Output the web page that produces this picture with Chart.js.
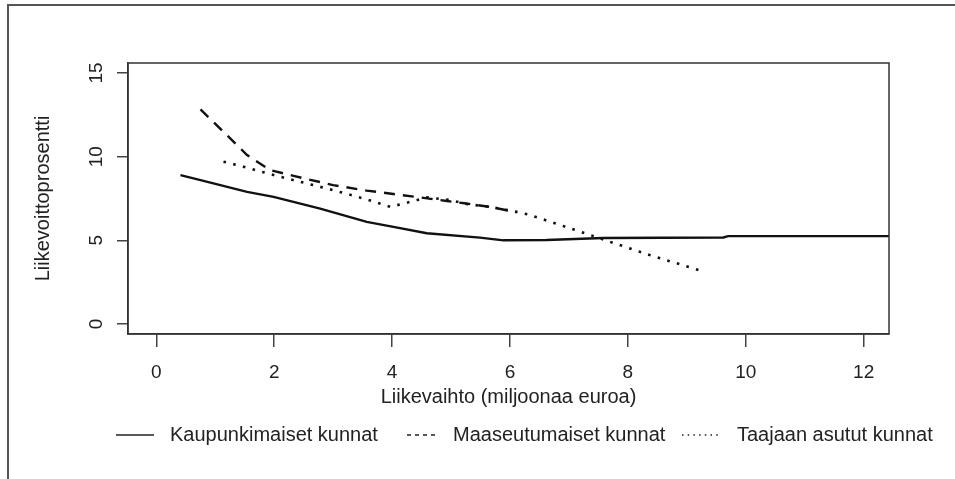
<!DOCTYPE html>
<html>
<head>
<meta charset="utf-8">
<script src="https://cdn.jsdelivr.net/npm/chart.js@4/dist/chart.umd.min.js"></script>
<style>
  html, body { margin: 0; padding: 0; background: #fff; }
</style>
</head>
<body>
<canvas id="chartLiikevoitto" width="955" height="479"></canvas>
<script>
// Values
const xTicks = [0, 2, 4, 6, 8, 10, 12];
const yTicks = [0, 5, 10, 15];

const kaupunkiX = [0.41, 0.75, 1.54, 1.99, 2.78, 3.57, 4.0, 4.59, 5.49, 5.89, 6.62, 7.58, 9.62, 9.7, 12.6];
const kaupunkiY = [8.9, 8.6, 7.9, 7.6, 6.9, 6.1, 5.82, 5.42, 5.16, 5.0, 5.02, 5.14, 5.17, 5.25, 5.25];

const maaseutuX = [0.75, 1.54, 1.93, 2.33, 3.0, 3.57, 4.02, 4.47, 4.93, 5.26, 5.66, 6.11];
const maaseutuY = [12.83, 10.1, 9.2, 8.85, 8.3, 7.97, 7.77, 7.57, 7.35, 7.2, 7.0, 6.68];

const taajaanX = [1.14, 1.48, 1.99, 2.44, 3.0, 3.57, 3.97, 4.31, 4.59, 5.0, 5.26, 5.66, 6.0, 6.31, 7.36, 7.69, 8.37, 9.25];
const taajaanY = [9.7, 9.4, 8.9, 8.5, 8.0, 7.45, 7.0, 7.3, 7.57, 7.4, 7.17, 7.0, 6.78, 6.55, 5.32, 4.92, 4.12, 3.17];

const seriesNames = ["Kaupunkimaiset kunnat", "Maaseutumaiset kunnat", "Taajaan asutut kunnat"];

const toPoints = (xs, ys) => xs.map((x, i) => ({ x: x, y: ys[i] }));

Chart.defaults.font.family = "'Liberation Sans', Arial, sans-serif";
Chart.defaults.font.size = 19;
Chart.defaults.color = "#222";

// outer frame (only top and left edges show in the picture)
const framePlugin = {
  id: "frame",
  beforeDraw(chart) {
    const ctx = chart.ctx;
    ctx.save();
    ctx.fillStyle = "#fff";
    ctx.fillRect(0, 0, chart.width, chart.height);
    ctx.strokeStyle = "#555";
    ctx.lineWidth = 2;
    ctx.beginPath();
    ctx.moveTo(8, chart.height);
    ctx.lineTo(8, 5);
    ctx.lineTo(chart.width, 5);
    ctx.stroke();
    ctx.restore();
  },
  afterDraw(chart) {
    const a = chart.chartArea;
    const ctx = chart.ctx;
    ctx.save();
    ctx.strokeStyle = "#333";
    ctx.lineWidth = 1.5;
    ctx.strokeRect(a.left, a.top, a.right - a.left, a.bottom - a.top);
    ctx.restore();
  }
};

// R style legend under the axis title
const legendPlugin = {
  id: "rLegend",
  afterDraw(chart, args, opts) {
    const ctx = chart.ctx;
    ctx.save();
    ctx.font = "20px 'Liberation Sans', Arial, sans-serif";
    ctx.fillStyle = "#222";
    ctx.textBaseline = "middle";
    chart.data.datasets.forEach((ds, i) => {
      const it = opts.items[i];
      ctx.strokeStyle = "#222";
      ctx.lineWidth = 1.5;
      ctx.setLineDash(it.dash);
      ctx.beginPath();
      ctx.moveTo(it.x0, opts.y);
      ctx.lineTo(it.x1, opts.y);
      ctx.stroke();
      ctx.setLineDash([]);
      ctx.fillText(ds.label, it.tx, opts.y);
    });
    ctx.restore();
  }
};

const chartLiikevoitto = document.getElementById("chartLiikevoitto");
new Chart(chartLiikevoitto, {
  type: "line",
  data: {
    datasets: [
      {
        label: seriesNames[0],
        data: toPoints(kaupunkiX, kaupunkiY),
        borderColor: "#111",
        borderWidth: 2.4,
        pointRadius: 0,
        tension: 0,
      },
      {
        label: seriesNames[1],
        data: toPoints(maaseutuX, maaseutuY),
        borderColor: "#111",
        borderWidth: 2.4,
        borderDash: [11, 8],
        pointRadius: 0,
        tension: 0,
      },
      {
        label: seriesNames[2],
        data: toPoints(taajaanX, taajaanY),
        borderColor: "#111",
        borderWidth: 2.6,
        borderDash: [2.6, 7.4],
        pointRadius: 0,
        tension: 0,
      },
    ],
  },
  options: {
    responsive: false,
    animation: false,
    layout: { padding: { top: 63, right: 66, left: 0, bottom: 0 } },
    plugins: {
      legend: { display: false },
      tooltip: { enabled: false },
      rLegend: {
        y: 435,
        items: [
          { x0: 116, x1: 154, tx: 170, dash: [] },
          { x0: 407, x1: 435, tx: 453, dash: [4, 4] },
          { x0: 682, x1: 719, tx: 737, dash: [1.5, 4.2] },
        ],
      },
    },
    scales: {
      x: {
        type: "linear",
        min: -0.48,
        max: 12.43,
        afterBuildTicks: (s) => { s.ticks = xTicks.map((v) => ({ value: v })); },
        afterFit: (s) => { s.height = 145; },
        ticks: { padding: 14, maxRotation: 0, color: "#222" },
        grid: { drawOnChartArea: false, drawTicks: true, tickLength: 13, color: "#444", lineWidth: 1.5 },
        border: { display: true, color: "#333", width: 1.5 },
        title: {
          display: true,
          text: "Liikevaihto (miljoonaa euroa)",
          color: "#222",
          font: { size: 20 },
          padding: { top: 0, bottom: 70 },
        },
      },
      y: {
        type: "linear",
        min: -0.6,
        max: 15.6,
        afterBuildTicks: (s) => { s.ticks = yTicks.map((v) => ({ value: v })); },
        afterFit: (s) => { s.width = 128; },
        ticks: { padding: 10, minRotation: 90, maxRotation: 90, crossAlign: "center", color: "#222" },
        grid: { drawOnChartArea: false, drawTicks: true, tickLength: 11, color: "#444", lineWidth: 1.5 },
        border: { display: true, color: "#333", width: 1.5 },
        title: {
          display: true,
          text: "Liikevoittoprosentti",
          color: "#222",
          font: { size: 20 },
          padding: { top: 31, bottom: 0 },
        },
      },
    },
  },
  plugins: [framePlugin, legendPlugin],
});
</script>
</body>
</html>
